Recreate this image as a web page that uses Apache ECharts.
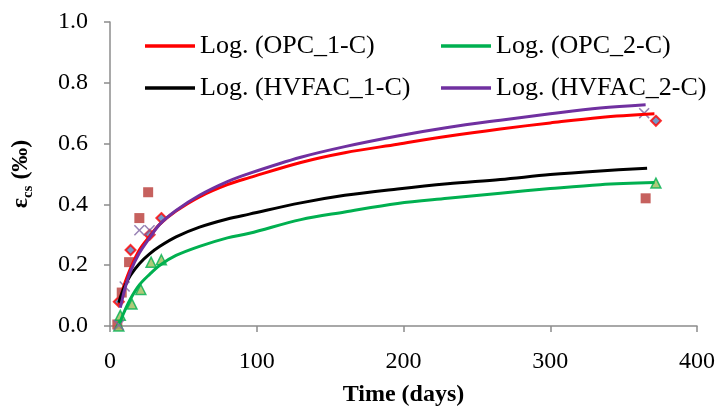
<!DOCTYPE html>
<html>
<head>
<meta charset="utf-8">
<script src="https://cdn.jsdelivr.net/npm/echarts@6/dist/echarts.min.js"></script>
<style>html,body{margin:0;padding:0;background:#fff;}#c{width:718px;height:412px;}</style>
</head>
<body>
<div id="c"></div>
<script>
// Trendline readings (days, strain ‰)
const opc1Days = [6, 8, 10, 14, 20, 27, 34, 45, 61, 80, 95, 130, 160, 196, 230, 266, 300, 334, 371];
const opc1Fit  = [0.07, 0.11, 0.14, 0.19, 0.25, 0.295, 0.335, 0.378, 0.425, 0.465, 0.488, 0.538, 0.57, 0.598, 0.624, 0.648, 0.668, 0.686, 0.698];
const opc2Days = [6, 7, 8, 10, 14, 20, 27, 34, 45, 61, 80, 95, 130, 160, 196, 230, 266, 300, 334, 371];
const opc2Fit  = [0.01, 0.015, 0.027, 0.05, 0.09, 0.135, 0.17, 0.2, 0.232, 0.262, 0.29, 0.305, 0.35, 0.375, 0.403, 0.42, 0.437, 0.452, 0.465, 0.472];
const hv1Days  = [6, 8, 10, 14, 20, 27, 34, 45, 61, 80, 95, 130, 160, 196, 230, 266, 300, 334, 366];
const hv1Fit   = [0.077, 0.107, 0.13, 0.167, 0.205, 0.237, 0.262, 0.293, 0.325, 0.352, 0.368, 0.405, 0.43, 0.451, 0.468, 0.482, 0.498, 0.51, 0.519];
const hv2Days  = [7, 8, 10, 14, 20, 27, 34, 45, 61, 80, 95, 130, 160, 196, 230, 266, 300, 334, 365];
const hv2Fit   = [0.06, 0.08, 0.12, 0.18, 0.24, 0.29, 0.335, 0.38, 0.43, 0.475, 0.502, 0.555, 0.59, 0.625, 0.653, 0.677, 0.698, 0.717, 0.728];

// Measured points
const diamondDays = [6, 14, 27, 35, 372];
const diamondVals = [0.08, 0.25, 0.30, 0.355, 0.675];
const squareDays  = [5, 8, 13, 20, 26, 365];
const squareVals  = [0.005, 0.11, 0.21, 0.355, 0.44, 0.42];
const triDays     = [6, 7, 15, 21, 28, 35, 372];
const triVals     = [0.0, 0.035, 0.072, 0.12, 0.21, 0.218, 0.47];
const crossDays   = [6, 10, 20, 27, 364];
const crossVals   = [0.003, 0.13, 0.315, 0.315, 0.70];

const legendNames = ['Log. (OPC_1-C)', 'Log. (OPC_2-C)', 'Log. (HVFAC_1-C)', 'Log. (HVFAC_2-C)'];
const xTicks = [0, 100, 200, 300, 400];
const yTicks = [0, 0.2, 0.4, 0.6, 0.8, 1.0];

const zip = (a, b) => a.map((d, i) => [d, b[i]]);
const serif = '"Liberation Serif", "Times New Roman", serif';
const axisGray = '#8c8c8c';

const lineSeries = (name, days, vals, color) => ({
  name, type: 'line', data: zip(days, vals), smooth: 0.35, showSymbol: false,
  lineStyle: { color, width: 3 }, itemStyle: { color }, z: 5
});

const legendItem = (name, left, top) => ({
  data: [name], left, top, padding: 0, icon: 'rect', itemWidth: 50, itemHeight: 3.5,
  textStyle: { fontFamily: serif, fontSize: 26, color: '#000' }, selectedMode: false
});

const chart = echarts.init(document.getElementById('c'), null, { renderer: 'canvas' });
chart.setOption({
  animation: false,
  backgroundColor: '#fff',
  grid: { left: 110, right: 21, top: 22, bottom: 76, containLabel: false },
  legend: [
    legendItem(legendNames[0], 145, 33),
    legendItem(legendNames[1], 441, 33),
    legendItem(legendNames[2], 145, 75),
    legendItem(legendNames[3], 441, 75)
  ],
  xAxis: {
    type: 'value', min: xTicks[0], max: xTicks[xTicks.length - 1], interval: 100,
    name: 'Time (days)', nameLocation: 'middle', nameGap: 57, nameMoveOverlap: false,
    nameTextStyle: { fontFamily: serif, fontSize: 24, fontWeight: 'bold', color: '#000' },
    axisLine: { show: true, onZero: false, lineStyle: { color: axisGray, width: 1.5 } },
    axisTick: { show: true, inside: false, length: 6, lineStyle: { color: axisGray, width: 1.5 } },
    axisLabel: { fontFamily: serif, fontSize: 24, color: '#000', margin: 24 },
    splitLine: { show: false }
  },
  yAxis: {
    type: 'value', min: yTicks[0], max: yTicks[yTicks.length - 1], interval: 0.2,
    name: '{a|ε}{b|cs}{a| (‰)}', nameLocation: 'middle', nameGap: 74, nameRotate: 90, nameMoveOverlap: false,
    nameTextStyle: {
      rich: {
        a: { fontFamily: serif, fontSize: 24, fontWeight: 'bold', color: '#000', lineHeight: 30, verticalAlign: 'middle' },
        b: { fontFamily: serif, fontSize: 15, fontWeight: 'bold', color: '#000', lineHeight: 30, verticalAlign: 'bottom', padding: [10, 0, 0, 0] }
      }
    },
    axisLine: { show: true, lineStyle: { color: axisGray, width: 1.5 } },
    axisTick: { show: true, inside: false, length: 6, lineStyle: { color: axisGray, width: 1.5 } },
    axisLabel: { color: '#000', margin: 10, align: 'right',
      formatter: v => '{v|' + v.toFixed(1) + '}{g|}',
      rich: { v: { fontFamily: serif, fontSize: 24, color: '#000' }, g: { width: 12 } } },
    splitLine: { show: false }
  },
  series: [
    { name: 'OPC_1-C', type: 'scatter', data: zip(diamondDays, diamondVals), symbol: 'diamond', symbolSize: 10,
      itemStyle: { color: '#4F81BD', borderColor: '#FF0000', borderWidth: 2 }, z: 3 },
    { name: 'HVFAC_1-C', type: 'scatter', data: zip(squareDays, squareVals), symbol: 'rect', symbolSize: 10,
      itemStyle: { color: '#C0504D', opacity: 0.9 }, z: 3 },
    { name: 'OPC_2-C', type: 'scatter', data: zip(triDays, triVals), symbol: 'triangle', symbolSize: 10,
      itemStyle: { color: '#9BBB59', borderColor: '#00B050', borderWidth: 1.5 }, z: 3 },
    { name: 'HVFAC_2-C', type: 'scatter', data: zip(crossDays, crossVals),
      symbol: 'path://M1,0L5,4L9,0L10,1L6,5L10,9L9,10L5,6L1,10L0,9L4,5L0,1Z', symbolSize: 11,
      itemStyle: { color: '#8064A2' }, z: 3 },
    lineSeries(legendNames[0], opc1Days, opc1Fit, '#FF0000'),
    lineSeries(legendNames[1], opc2Days, opc2Fit, '#00B050'),
    lineSeries(legendNames[2], hv1Days, hv1Fit, '#000000'),
    lineSeries(legendNames[3], hv2Days, hv2Fit, '#7030A0')
  ]
});
</script>
</body>
</html>
